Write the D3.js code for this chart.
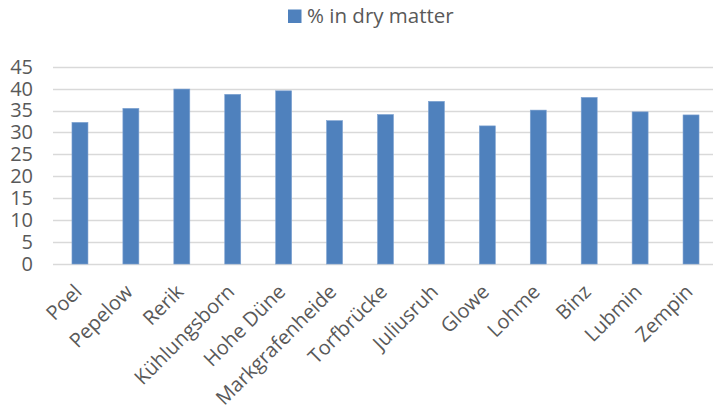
<!DOCTYPE html>
<html><head><meta charset="utf-8">
<script src="https://cdn.jsdelivr.net/npm/d3@7"></script>
<style>body{margin:0;background:#fff}svg{display:block}</style>
</head><body>
<script>
const categories = ["Poel","Pepelow","Rerik","Kühlungsborn","Hohe Düne","Markgrafenheide","Torfbrücke","Juliusruh","Glowe","Lohme","Binz","Lubmin","Zempin"];
const values = [32.3,35.5,39.9,38.7,39.5,32.7,34.1,37.1,31.5,35.1,38.0,34.7,34.0];
const yTicks = [0,5,10,15,20,25,30,35,40,45];
const seriesName = "% in dry matter";

const W=713,H=417;
const svg=d3.select("body").append("svg").attr("width",W).attr("height",H);
const font="'Open Sans', sans-serif", tc="#595959";
const x=d3.scaleBand().domain(categories).range([54.5,716.5]).paddingInner(0.686).paddingOuter(0.343);
const y=d3.scaleLinear().domain([0,45]).range([264,66.7]);

const grid=svg.append("g");
grid.selectAll("line").data(yTicks).join("line")
 .attr("x1",53).attr("x2",713).attr("y1",d=>Math.round(y(d))+0.5).attr("y2",d=>Math.round(y(d))+0.5)
 .attr("stroke","#d9d9d9").attr("stroke-width",1.3);

const yAxis=svg.append("g").attr("transform","translate(33,0)")
 .call(d3.axisLeft(y).tickValues(yTicks).tickSize(0).tickPadding(0));
yAxis.select(".domain").remove();
yAxis.selectAll("text").attr("font-family",font).attr("font-size",20).attr("fill",tc);

svg.append("g").selectAll("rect").data(values).join("rect")
 .attr("x",(d,i)=>x(categories[i])).attr("width",x.bandwidth())
 .attr("y",d=>y(d)).attr("height",d=>y(0)-y(d))
 .attr("fill","#4f81bd").attr("stroke","#7ea2d1").attr("stroke-width",0.6);

const xAxis=svg.append("g").attr("transform","translate(0,270)")
 .call(d3.axisBottom(x).tickSize(0).tickPadding(0));
xAxis.select(".domain").remove();
xAxis.selectAll("text").attr("font-family",font).attr("font-size",20).attr("fill",tc)
 .attr("text-anchor","end").attr("x",0).attr("y",0).attr("dy",0)
 .attr("transform","translate(3,23) rotate(-45)");

const lg=svg.append("g");
lg.append("rect").attr("x",288).attr("y",9.5).attr("width",13.5).attr("height",13.5).attr("fill","#4f81bd");
lg.append("text").attr("x",307).attr("y",23).attr("font-family",font).attr("font-size",20.5).attr("fill",tc).text(seriesName);
</script>
</body></html>
